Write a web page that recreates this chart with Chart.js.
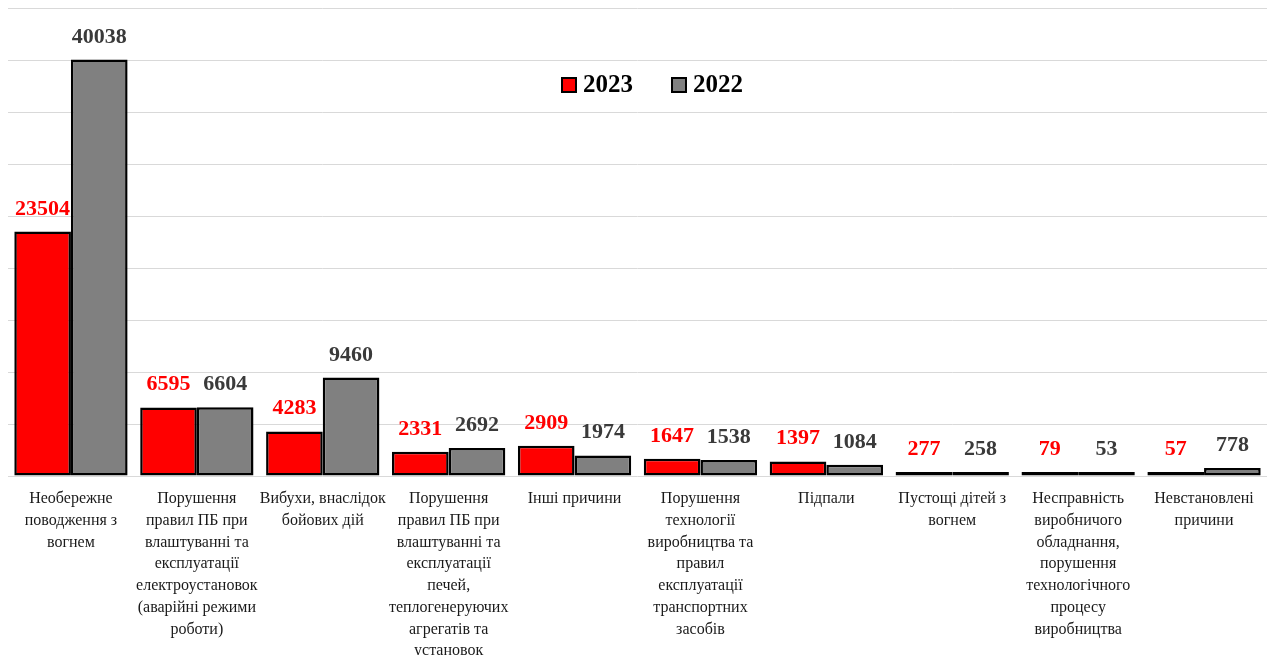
<!DOCTYPE html>
<html>
<head>
<meta charset="utf-8">
<script src="https://cdn.jsdelivr.net/npm/chart.js@4/dist/chart.umd.min.js"></script>
<style>
  html, body { margin: 0; padding: 0; background: #fff; }
  #wrap { width: 1267px; height: 655px; position: relative; }
</style>
</head>
<body>
<div id="wrap"><canvas id="fireChart"></canvas></div>
<script>
// Categories (causes of fires), split into lines as in the original
const causes = [
    ['Необережне', 'поводження з', 'вогнем'],
    ['Порушення', 'правил ПБ при', 'влаштуванні та', 'експлуатації', 'електроустановок', '(аварійні режими', 'роботи)'],
    ['Вибухи, внаслідок', 'бойових дій'],
    ['Порушення', 'правил ПБ при', 'влаштуванні та', 'експлуатації', 'печей,', 'теплогенеруючих', 'агрегатів та', 'установок'],
    ['Інші причини'],
    ['Порушення', 'технології', 'виробництва та', 'правил', 'експлуатації', 'транспортних', 'засобів'],
    ['Підпали'],
    ['Пустощі дітей з', 'вогнем'],
    ['Несправність', 'виробничого', 'обладнання,', 'порушення', 'технологічного', 'процесу', 'виробництва'],
    ['Невстановлені', 'причини']
];

// Values per year
const fires2023 = [23504, 6595, 4283, 2331, 2909, 1647, 1397, 277, 79, 57];
const fires2022 = [40038, 6604, 9460, 2692, 1974, 1538, 1084, 258, 53, 778];

const seriesNames = ['2023', '2022'];
const labelColors = ['#ff0000', '#3a3a3a'];

// Value labels above every bar
const valueLabels = {
    id: 'valueLabels',
    afterDatasetsDraw(chart) {
        const ctx = chart.ctx;
        ctx.save();
        ctx.font = 'bold 22px "Liberation Serif", "Times New Roman", serif';
        ctx.textAlign = 'center';
        ctx.textBaseline = 'alphabetic';
        chart.data.datasets.forEach((ds, i) => {
            chart.getDatasetMeta(i).data.forEach((bar, j) => {
                ctx.fillStyle = labelColors[i];
                ctx.fillText(ds.data[j], bar.x, bar.y - 17);
            });
        });
        ctx.restore();
    }
};

// Legend inside the plot area
const innerLegend = {
    id: 'innerLegend',
    afterDraw(chart) {
        const ctx = chart.ctx;
        const items = [
            { x: 562, color: '#ff0000', text: seriesNames[0] },
            { x: 672, color: '#808080', text: seriesNames[1] }
        ];
        ctx.save();
        ctx.font = 'bold 25px "Liberation Serif", "Times New Roman", serif';
        ctx.textBaseline = 'middle';
        items.forEach(it => {
            ctx.fillStyle = it.color;
            ctx.fillRect(it.x, 78, 14, 14);
            ctx.lineWidth = 2;
            ctx.strokeStyle = '#000';
            ctx.strokeRect(it.x, 78, 14, 14);
            ctx.fillStyle = '#000';
            ctx.fillText(it.text, it.x + 21, 86);
        });
        ctx.restore();
    }
};

new Chart(document.getElementById('fireChart'), {
    type: 'bar',
    data: {
        labels: causes,
        datasets: [{
            label: seriesNames[0],
            data: fires2023,
            backgroundColor: '#ff0000',
            borderColor: '#000000',
            borderWidth: 2.5,
            borderSkipped: false,
            minBarLength: 4
        }, {
            label: seriesNames[1],
            data: fires2022,
            backgroundColor: '#808080',
            borderColor: '#000000',
            borderWidth: 2.5,
            borderSkipped: false,
            minBarLength: 4
        }]
    },
    options: {
        responsive: true,
        maintainAspectRatio: false,
        animation: false,
        datasets: {
            bar: { barPercentage: 1.0, categoryPercentage: 0.9 }
        },
        layout: { padding: { left: 8, right: 0, top: 8, bottom: 0 } },
        plugins: {
            legend: { display: false },
            tooltip: { enabled: false }
        },
        scales: {
            x: {
                grid: { display: false },
                border: { display: false },
                ticks: {
                    color: '#1a1a1a',
                    padding: 4,
                    maxRotation: 0,
                    autoSkip: false,
                    font: { family: '"Liberation Serif", "Times New Roman", serif', size: 16, lineHeight: 1.36 }
                },
                afterFit(scale) { scale.height = 179; }
            },
            y: {
                min: 0,
                max: 45000,
                ticks: { stepSize: 5000, display: false },
                grid: { color: '#d9d9d9', lineWidth: 1, drawTicks: false },
                border: { display: false }
            }
        }
    },
    plugins: [valueLabels, innerLegend]
});
</script>
</body>
</html>
